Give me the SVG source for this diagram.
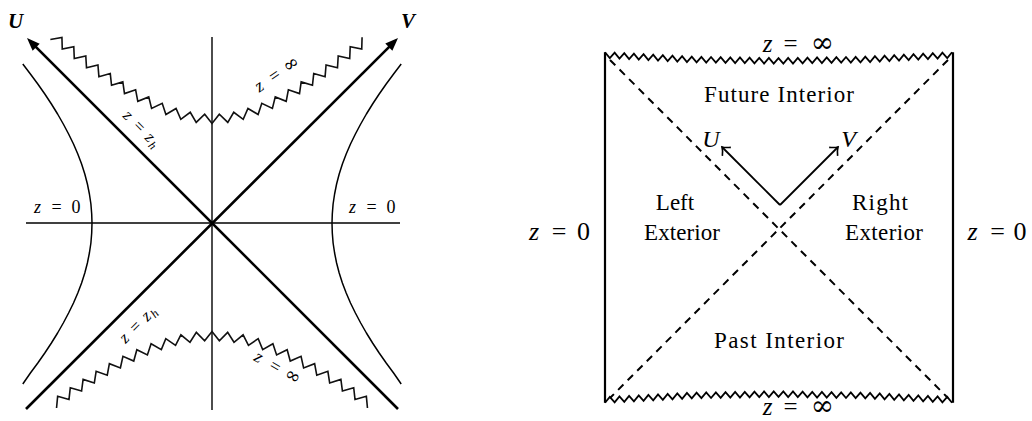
<svg xmlns="http://www.w3.org/2000/svg" width="1032" height="421" viewBox="0 0 1032 421">
<defs>
<style>
.ax{stroke:#000;fill:none;stroke-width:1.4}
.diag{stroke:#000;fill:none;stroke-width:2.6}
.hyp{stroke:#000;fill:none;stroke-width:1.5;stroke-linejoin:round}
.zz{stroke:#111;fill:none;stroke-width:1.6;stroke-linejoin:miter}
.zz2{stroke:#000;fill:none;stroke-width:1.8;stroke-linejoin:miter}
.box{stroke:#000;fill:none;stroke-width:2.2}
.dash{stroke:#000;fill:none;stroke-width:2;stroke-dasharray:7.5 6}
.arr{stroke:#000;fill:none;stroke-width:1.8}
.t{font-family:'Liberation Serif','DejaVu Serif',serif;fill:#000}
.it{font-style:italic}
.bi{font-style:italic;font-weight:bold}
.inf{font-family:'DejaVu Serif',serif;font-style:normal}
</style>
<marker id="latex" viewBox="-10 -6 15 12" refX="0" refY="0" markerWidth="15" markerHeight="12" markerUnits="userSpaceOnUse" orient="auto">
<path d="M4,0 L-9,-5 L-9,5 Z" fill="#000"/>
</marker>
<marker id="to" viewBox="-8 -8 10 16" refX="0" refY="0" markerWidth="10" markerHeight="16" markerUnits="userSpaceOnUse" orient="auto">
<path d="M-6.5,-6 C-4,-3 -1.5,-0.8 0,0 C-1.5,0.8 -4,3 -6.5,6" fill="none" stroke="#000" stroke-width="1.6"/>
</marker>
</defs>
<rect width="1032" height="421" fill="#fff"/>

<!-- LEFT PANEL -->
<g id="kruskal">
<g id="axes">
<line class="ax" x1="26" y1="223" x2="400" y2="223"/>
<line class="ax" x1="212" y1="37" x2="212" y2="410"/>
</g>
<g id="hyperbola-left">
<polyline class="hyp" points="22.8,64 30.4,74 37.8,84 44.8,94 51.4,104 57.6,114 63.3,124 68.6,134 73.5,144 77.8,154 81.6,164 84.8,174 87.4,184 89.4,194 90.9,204 91.7,214 92,223 91.7,233 90.9,243 89.4,253 87.4,263 84.8,273 81.6,283 77.8,293 73.5,303 68.6,313 63.3,323 57.6,333 51.4,343 44.8,353 37.8,363 30.4,373 22.8,384"/>
</g>
<g id="hyperbola-right">
<polyline class="hyp" points="401.2,64 393.6,74 386.2,84 379.2,94 372.6,104 366.4,114 360.7,124 355.4,134 350.5,144 346.2,154 342.4,164 339.2,174 336.6,184 334.6,194 333.1,204 332.3,214 332,223 332.3,233 333.1,243 334.6,253 336.6,263 339.2,273 342.4,283 346.2,293 350.5,303 355.4,313 360.7,323 366.4,333 372.6,343 379.2,353 386.2,363 393.6,373 401.2,384"/>
</g>
<g id="singularity-future">
<polyline class="zz" points="50.36,39.57 61.93,37.34 62.26,49.11 73.79,46.72 74.29,58.49 85.79,55.93 86.5,67.69 97.94,64.9 98.9,76.65 110.27,73.59 111.54,85.3 122.82,81.9 124.49,93.56 135.63,89.73 137.81,101.3 148.74,96.92 151.59,108.35 162.21,103.25 165.9,114.45 176.05,108.48 180.79,119.27 190.25,112.25 196.2,122.4 204.7,114.2 212,123.5 219.3,114.2 227.8,122.4 233.75,112.25 243.21,119.27 247.95,108.48 258.1,114.45 261.79,103.25 272.41,108.35 275.26,96.92 286.19,101.3 288.37,89.73 299.51,93.56 301.18,81.9 312.46,85.3 313.73,73.59 325.1,76.65 326.06,64.9 337.5,67.69 338.21,55.93 349.71,58.49 350.21,46.72 361.74,49.11 362.07,37.34"/>
</g>
<g id="singularity-past">
<polyline class="zz" points="56.54,408.03 57.64,396.31 69,399.44 70.29,387.73 81.58,391.07 83.11,379.39 94.33,382.98 96.13,371.33 107.25,375.22 109.39,363.63 120.39,367.88 122.94,356.37 133.76,361.05 136.84,349.68 147.4,354.9 151.1,343.72 161.32,349.58 165.8,338.67 175.54,345.3 180.9,334.81 190,342.27 196.34,332.35 204.64,340.7 212,331.5 219.36,340.7 227.66,332.35 234,342.27 243.1,334.81 248.46,345.3 258.2,338.67 262.68,349.58 272.9,343.72 276.6,354.9 287.16,349.68 290.24,361.05 301.06,356.37 303.61,367.88 314.61,363.63 316.75,375.22 327.87,371.33 329.67,382.98 340.89,379.39 342.42,391.07 353.71,387.73 355,399.44 366.36,396.31 367.46,408.03"/>
</g>
<g id="kruskal-labels" class="t">
<text class="bi" x="15.5" y="28" font-size="21" text-anchor="middle">U</text>
<text class="bi" x="408" y="28" font-size="21" text-anchor="middle">V</text>
<text font-size="18" y="213" text-anchor="middle"><tspan class="it" x="37.5">z</tspan><tspan x="56.5">=</tspan><tspan x="76">0</tspan></text>
<text font-size="18" y="213" text-anchor="middle"><tspan class="it" x="352.5">z</tspan><tspan x="371.5">=</tspan><tspan x="391">0</tspan></text>
<text font-size="17" text-anchor="middle" transform="translate(139,127) rotate(45)" y="4.6"><tspan class="it" x="-16">z</tspan><tspan x="0">=</tspan><tspan class="it" x="15">z</tspan><tspan class="it" font-size="12" x="22.5" dy="3">h</tspan></text>
<text font-size="17" text-anchor="middle" transform="translate(136,327) rotate(-45)" y="4.6"><tspan class="it" x="-16">z</tspan><tspan x="0">=</tspan><tspan class="it" x="15">z</tspan><tspan class="it" font-size="12" x="22.5" dy="3">h</tspan></text>
<text font-size="18" text-anchor="middle" transform="translate(275,76) rotate(-34)" y="5"><tspan class="it" x="-19">z</tspan><tspan x="0">=</tspan><tspan class="inf" x="20" font-size="19">∞</tspan></text>
<text font-size="18" text-anchor="middle" transform="translate(275,367) rotate(30)" y="5"><tspan class="it" x="-19">z</tspan><tspan x="0">=</tspan><tspan class="inf" x="20" font-size="19">∞</tspan></text>
</g>
</g>

<!-- RIGHT PANEL -->
<g id="penrose">
<g id="boundary">
<line class="box" x1="605" y1="52.2" x2="605" y2="402.8"/>
<line class="box" x1="953" y1="52.2" x2="953" y2="402.8"/>
</g>
<g id="singularity-top">
<path class="zz2" d="M605,52.2 l4.82 5.85 4.82 -5.35 4.82 5.85 4.82 -5.35 4.82 5.85 4.82 -5.35 4.82 5.85 4.82 -5.35 4.82 5.85 4.82 -5.35 4.82 5.85 4.82 -5.35 4.82 5.85 4.82 -5.35 4.82 5.85 4.82 -5.35 4.82 5.85 4.82 -5.35 4.82 5.68 4.82 -5.52 4.82 5.68 4.82 -5.52 4.82 5.68 4.82 -5.52 4.82 5.68 4.82 -5.52 4.82 5.68 4.82 -5.52 4.82 5.68 4.82 -5.52 4.82 5.68 4.82 -5.52 4.82 5.68 4.82 -5.52 4.82 5.68 4.82 -5.52 4.82 5.52 4.82 -5.68 4.82 5.52 4.82 -5.68 4.82 5.52 4.82 -5.68 4.82 5.52 4.82 -5.68 4.82 5.52 4.82 -5.68 4.82 5.52 4.82 -5.68 4.82 5.52 4.82 -5.68 4.82 5.52 4.82 -5.68 4.82 5.52 4.82 -5.68 4.82 5.35 4.82 -5.85 4.82 5.35 4.82 -5.85 4.82 5.35 4.82 -5.85 4.82 5.35 4.82 -5.85 4.82 5.35 4.82 -5.85 4.82 5.35 4.82 -5.85 4.82 5.35 4.82 -5.85 4.82 5.35 4.82 -5.85 4.82 5.35 4.82 -5.85"/>
</g>
<g id="singularity-bottom">
<path class="zz2" d="M605,402.8 l4.82 -5.85 4.82 5.35 4.82 -5.85 4.82 5.35 4.82 -5.85 4.82 5.35 4.82 -5.85 4.82 5.35 4.82 -5.85 4.82 5.35 4.82 -5.85 4.82 5.35 4.82 -5.85 4.82 5.35 4.82 -5.85 4.82 5.35 4.82 -5.85 4.82 5.35 4.82 -5.68 4.82 5.52 4.82 -5.68 4.82 5.52 4.82 -5.68 4.82 5.52 4.82 -5.68 4.82 5.52 4.82 -5.68 4.82 5.52 4.82 -5.68 4.82 5.52 4.82 -5.68 4.82 5.52 4.82 -5.68 4.82 5.52 4.82 -5.68 4.82 5.52 4.82 -5.52 4.82 5.68 4.82 -5.52 4.82 5.68 4.82 -5.52 4.82 5.68 4.82 -5.52 4.82 5.68 4.82 -5.52 4.82 5.68 4.82 -5.52 4.82 5.68 4.82 -5.52 4.82 5.68 4.82 -5.52 4.82 5.68 4.82 -5.52 4.82 5.68 4.82 -5.35 4.82 5.85 4.82 -5.35 4.82 5.85 4.82 -5.35 4.82 5.85 4.82 -5.35 4.82 5.85 4.82 -5.35 4.82 5.85 4.82 -5.35 4.82 5.85 4.82 -5.35 4.82 5.85 4.82 -5.35 4.82 5.85 4.82 -5.35 4.82 5.85"/>
</g>
<g id="horizons">
<line class="dash" x1="610" y1="60" x2="948" y2="398"/>
<line class="dash" x1="948" y1="60" x2="610" y2="398"/>
</g>
<g id="region-labels" class="t" font-size="23" text-anchor="middle">
<text x="779" y="102" textLength="150" lengthAdjust="spacing">Future Interior</text>
<text x="779" y="348" textLength="130" lengthAdjust="spacing">Past Interior</text>
<text x="675" y="210">Left</text>
<text x="682" y="240" textLength="76" lengthAdjust="spacing">Exterior</text>
<text x="880" y="210" textLength="56" lengthAdjust="spacing">Right</text>
<text x="884" y="240" textLength="78" lengthAdjust="spacing">Exterior</text>
</g>
<g id="boundary-labels" class="t" text-anchor="middle">
<text font-size="25" y="52"><tspan class="it" x="767.5">z</tspan><tspan x="790.5">=</tspan><tspan class="inf" x="822.5" font-size="28">∞</tspan></text>
<text font-size="25" y="415"><tspan class="it" x="767.5">z</tspan><tspan x="790.5">=</tspan><tspan class="inf" x="822.5" font-size="28">∞</tspan></text>
<text font-size="26" y="240"><tspan class="it" x="534">z</tspan><tspan x="559">=</tspan><tspan x="583.5">0</tspan></text>
<text font-size="26" y="240"><tspan class="it" x="972.5">z</tspan><tspan x="997.5">=</tspan><tspan x="1020">0</tspan></text>
<text class="it" font-size="24" x="711" y="147">U</text>
<text class="it" font-size="24" x="848.5" y="147">V</text>
</g>
</g>

<g id="connectors">
<line class="diag" x1="398" y1="409" x2="29.8" y2="40.8" marker-end="url(#latex)"/>
<line class="diag" x1="26" y1="409" x2="395.2" y2="40.8" marker-end="url(#latex)"/>
<path class="arr" d="M780,205 L722,147" marker-end="url(#to)"/>
<path class="arr" d="M780,205 L838,147" marker-end="url(#to)"/>
</g>
</svg>
